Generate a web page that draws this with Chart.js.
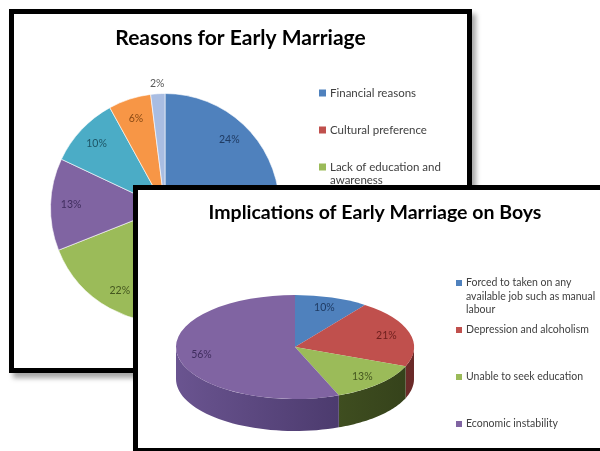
<!DOCTYPE html>
<html>
<head>
<meta charset="utf-8">
<script src="https://cdn.jsdelivr.net/npm/chart.js@4.4.0/dist/chart.umd.min.js"></script>
<style>
  html, body { margin: 0; padding: 0; background: #fff; width: 600px; height: 451px; overflow: hidden; }
  .panel { position: absolute; border: 5px solid #000; background: #fff; }
  #backPanel { left: 9px; top: 9px; width: 453px; height: 354px; box-shadow: 4px 5px 5px rgba(0,0,0,0.35); }
  #frontPanel { left: 133px; top: 185px; width: 474px; height: 258px; box-shadow: 4px 5px 5px rgba(0,0,0,0.35); }
  canvas { display: block; }
</style>
</head>
<body>
<div class="panel" id="backPanel"><canvas id="reasonsChart" width="453" height="354"></canvas></div>
<div class="panel" id="frontPanel"><canvas id="boysChart" width="474" height="258"></canvas></div>
<script>
// --- data ---
const reasonsTitle = "Reasons for Early Marriage";
const reasonLabels = ["Financial reasons", "Cultural preference", ["Lack of education and", "awareness"], "", "", "", ""];
const reasonValues = [24, 23, 22, 13, 10, 6, 2];

const boysTitle = "Implications of Early Marriage on Boys";
const boysLabels = [["Forced to taken on any", "available job such as manual", "labour"], "Depression and alcoholism", "Unable to seek education", "Economic instability"];
const boysValues = [10, 21, 13, 56];

// excel 2007 palette
const sliceColors = ["#4f81bd", "#c0504d", "#9bbb59", "#8064a2", "#4bacc6", "#f79646", "#a9bde2"];
const labelColors = ["#1f3b63", "#6d1f1d", "#44561f", "#3f2d5e", "#1d5566", "#8a4a14", "#595959"];
const sideColors = [["#3c6391", "#2a4566"], ["#94403d", "#6a2a28"], ["#56692c", "#34411a"], ["#6a5490", "#3e2f5e"]];

// titles, legend and % labels drawn on the canvas
const panelText = {
  id: "panelText",
  afterDraw(chart, args, o) {
    const ctx = chart.ctx;
    const meta = chart.getDatasetMeta(0);
    const data = chart.data.datasets[0].data;
    const total = data.reduce((a, b) => a + b, 0);
    ctx.save();
    ctx.textBaseline = "middle";

    // title, sized to the width it takes in the original
    ctx.font = "bold 20px Lato";
    const size = 20 * o.titleWidth / ctx.measureText(o.title).width;
    ctx.font = "bold " + size.toFixed(1) + "px Lato";
    ctx.fillStyle = "#000";
    ctx.textAlign = "center";
    ctx.fillText(o.title, chart.width / 2, o.titleY);

    // % labels
    ctx.font = o.labelFont;
    meta.data.forEach((arc, i) => {
      const p = arc.getProps(["x", "y", "startAngle", "endAngle", "outerRadius"]);
      const mid = (p.startAngle + p.endAngle) / 2;
      const pct = Math.round(data[i] / total * 100);
      const f = pct < 4 ? (p.outerRadius + 10) / p.outerRadius : o.labelFrac;
      let lx = p.x + Math.cos(mid) * p.outerRadius * f;
      let ly = p.y + Math.sin(mid) * p.outerRadius * f;
      if (o.project) ly = o.project(p.y, ly);
      ctx.fillStyle = labelColors[i];
      ctx.fillText(pct + "%", lx, ly);
    });

    // legend
    ctx.textAlign = "left";
    ctx.font = o.legendFont;
    chart.data.labels.forEach((lab, i) => {
      const lines = Array.isArray(lab) ? lab : [lab];
      if (!lines[0]) return;
      const y = o.legendY + i * o.legendStep;
      ctx.fillStyle = sliceColors[i];
      ctx.fillRect(o.legendX, y - o.box / 2, o.box, o.box);
      ctx.fillStyle = "#404040";
      lines.forEach((t, j) => ctx.fillText(t, o.legendX + o.box + 4, y + j * o.lineH));
    });
    ctx.restore();
  }
};

// flattens the pie into an ellipse and adds the side wall
const tilt = {
  id: "tilt",
  beforeDatasetsDraw(chart, args, o) {
    const ctx = chart.ctx;
    const meta = chart.getDatasetMeta(0);
    const a0 = meta.data[0];
    const cx = a0.x, cy = a0.y, r = a0.outerRadius;
    const ry = r * o.k;
    ctx.save();
    meta.data.forEach((arc, i) => {
      const a = Math.max(arc.startAngle, 0);
      const b = Math.min(arc.endAngle, Math.PI);
      if (b <= a) return;
      const g = ctx.createLinearGradient(cx - r, 0, cx + r, 0);
      g.addColorStop(0, sideColors[i][0]);
      g.addColorStop(1, sideColors[i][1]);
      ctx.beginPath();
      const n = 40;
      for (let s = 0; s <= n; s++) {
        const t = a + (b - a) * s / n;
        const px = cx + r * Math.cos(t), py = o.centerY + ry * Math.sin(t);
        s === 0 ? ctx.moveTo(px, py) : ctx.lineTo(px, py);
      }
      for (let s = n; s >= 0; s--) {
        const t = a + (b - a) * s / n;
        ctx.lineTo(cx + r * Math.cos(t), o.centerY + ry * Math.sin(t) + o.depth);
      }
      ctx.closePath();
      ctx.fillStyle = g;
      ctx.fill();
    });
    ctx.restore();
    ctx.save();
    ctx.translate(0, o.centerY);
    ctx.scale(1, o.k);
    ctx.translate(0, -cy);
  },
  afterDatasetsDraw(chart) {
    chart.ctx.restore();
  }
};

Chart.defaults.font.family = "Lato, 'Open Sans', sans-serif";

new Chart(document.getElementById("reasonsChart"), {
  type: "pie",
  data: {
    labels: reasonLabels,
    datasets: [{
      data: reasonValues,
      backgroundColor: sliceColors,
      borderColor: "rgba(255,255,255,0.6)",
      borderWidth: 1
    }]
  },
  options: {
    responsive: false,
    animation: false,
    layout: { padding: { left: 36, right: 187, top: 79, bottom: 45 } },
    plugins: {
      legend: { display: false },
      tooltip: { enabled: false },
      panelText: {
        title: reasonsTitle, titleWidth: 250, titleY: 24,
        labelFont: "10.5px Lato", labelFrac: 0.82,
        legendFont: "11.5px Lato", legendX: 305, legendY: 79, legendStep: 37, lineH: 13, box: 7
      }
    }
  },
  plugins: [panelText]
});

const boysCenterY = 157;
const boysK = 52 / 119;
new Chart(document.getElementById("boysChart"), {
  type: "pie",
  data: {
    labels: boysLabels,
    datasets: [{
      data: boysValues,
      backgroundColor: sliceColors.slice(0, 4),
      borderWidth: 0,
      clip: false
    }]
  },
  options: {
    responsive: false,
    animation: false,
    layout: { padding: { left: 38, right: 198, top: 10, bottom: 10 } },
    plugins: {
      legend: { display: false },
      tooltip: { enabled: false },
      tilt: { k: boysK, centerY: boysCenterY, depth: 32 },
      panelText: {
        title: boysTitle, titleWidth: 332, titleY: 23,
        labelFont: "10.5px Lato", labelFrac: 0.8,
        project: (cy, y) => boysCenterY + (y - cy) * boysK,
        legendFont: "10.5px Lato", legendX: 318, legendY: 93, legendStep: 47, lineH: 13.5, box: 6
      }
    }
  },
  plugins: [tilt, panelText]
});
</script>
</body>
</html>
